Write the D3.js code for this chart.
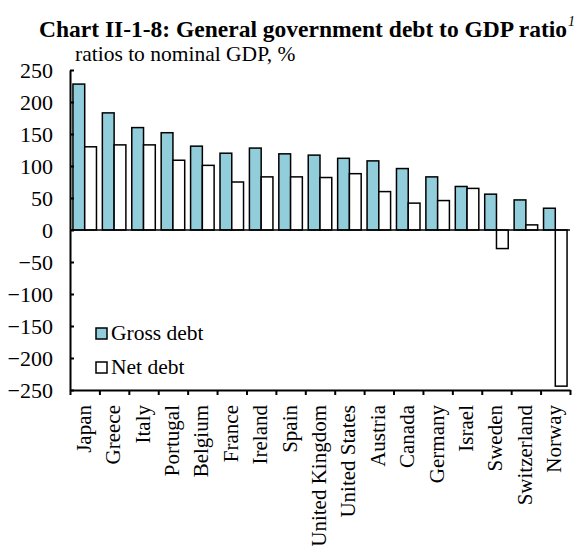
<!DOCTYPE html>
<html><head><meta charset="utf-8">
<script src="https://d3js.org/d3.v7.min.js"></script>
<style>body{margin:0;background:#fff}svg{display:block}</style>
</head><body><svg id="c" width="585" height="546"></svg>
<script>
const categories = ["Japan","Greece","Italy","Portugal","Belgium","France","Ireland","Spain","United Kingdom","United States","Austria","Canada","Germany","Israel","Sweden","Switzerland","Norway"];
const grossDebt = [228,183,160,152,131,120,128,119,117,112,108,96,83,68,56,47,34];
const netDebt = [130,133,133,109,101,75,83,83,82,88,60,42,46,65,-29,8,-244];
const yTicks = [250,200,150,100,50,0,-50,-100,-150,-200,-250];
const seriesNames = ["Gross debt","Net debt"];

const FF = "'Liberation Serif', 'Times New Roman', serif";
const svg = d3.select("#c");
const mL = 70, mR = 570, mT = 70, mB = 390;
const y = d3.scaleLinear().domain([-250,250]).range([mB, mT]);
const x = d3.scaleBand().domain(categories).range([mL, mR]).paddingInner(0.2).paddingOuter(0.1);
const sub = d3.scaleBand().domain(seriesNames).range([0, x.bandwidth()]);
const colors = {"Gross debt":"#92cddc","Net debt":"#ffffff"};

function txt(sel){ return sel.style("font-family", FF).attr("fill","#000"); }

// title
const title = txt(svg.append("text")).attr("x", 39).attr("y", 37).style("font-size","23.5px").style("font-weight","bold")
  .text("Chart II-1-8: General government debt to GDP ratio");
const tw = title.node().getComputedTextLength();
txt(svg.append("text")).attr("x", 39 + tw + 1).attr("y", 26).style("font-size","14px").style("font-style","italic").text("1");
txt(svg.append("text")).attr("x", 75).attr("y", 61).style("font-size","21.5px").text("ratios to nominal GDP, %");

// bars
const data = categories.map((c,i)=>({c, vals:[{k:"Gross debt",v:grossDebt[i]},{k:"Net debt",v:netDebt[i]}]}));
svg.append("g").selectAll("g").data(data).join("g").attr("transform", d=>`translate(${x(d.c)},0)`)
  .selectAll("rect").data(d=>d.vals).join("rect")
  .attr("x", d=>sub(d.k)).attr("width", sub.bandwidth())
  .attr("y", d=>y(Math.max(0,d.v))).attr("height", d=>Math.abs(y(d.v)-y(0)))
  .attr("fill", d=>colors[d.k]).attr("stroke","#000").attr("stroke-width",1.5);

// zero line
svg.append("line").attr("x1", mL).attr("x2", mR).attr("y1", y(0)).attr("y2", y(0)).attr("stroke","#000").attr("stroke-width",1.5);

// y axis
const ya = svg.append("g").attr("transform",`translate(${mL},0)`)
  .call(d3.axisLeft(y).tickValues(yTicks).tickSizeInner(-4).tickSizeOuter(0).tickPadding(17).tickFormat(d3.format("d")));
ya.attr("font-family", null).attr("font-size", null);
ya.select(".domain").attr("stroke-width",2);
ya.selectAll(".tick line").attr("stroke-width",2);
txt(ya.selectAll("text")).style("font-size","22px");

// x axis ticks at band boundaries
const xb = d3.scaleLinear().domain([0, categories.length]).range([mL, mR]);
const xa = svg.append("g").attr("transform",`translate(0,${mB})`)
  .call(d3.axisBottom(xb).tickValues(d3.range(categories.length+1)).tickSizeInner(5).tickSizeOuter(0).tickFormat(""));
xa.select(".domain").attr("stroke-width",2);
xa.selectAll(".tick line").attr("stroke-width",2);

// x labels
txt(svg.append("g").selectAll("text").data(categories).join("text"))
  .attr("transform", d=>`translate(${x(d)+x.bandwidth()/2-1},405) rotate(-90)`)
  .attr("text-anchor","end").attr("dominant-baseline","central").style("font-size","21px").text(d=>d);

// legend
const lg = svg.append("g");
seriesNames.forEach((s,i)=>{
  const yy = 328 + i*34;
  lg.append("rect").attr("x",96).attr("y",yy).attr("width",11).attr("height",11).attr("fill",colors[s]).attr("stroke","#000").attr("stroke-width",1.5);
  txt(lg.append("text")).attr("x",111).attr("y",yy+12).style("font-size","21.5px").text(s);
});
</script></body></html>
